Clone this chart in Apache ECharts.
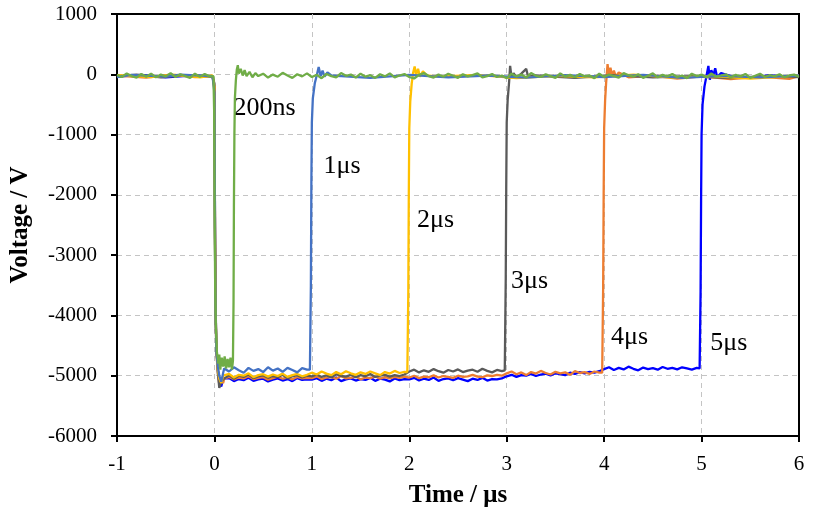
<!DOCTYPE html>
<html>
<head>
<meta charset="utf-8">
<script src="https://cdn.jsdelivr.net/npm/echarts@6/dist/echarts.min.js"></script>
<style>
  html, body { margin: 0; padding: 0; background: #fff; }
  #chart { width: 818px; height: 518px; }
</style>
</head>
<body>
<div id="chart"></div>
<script>
// sampled traces, time in us, voltage in V
var STEP = 0.05;      // sample spacing of the noisy stretches
var LOW_START = 0.1;  // first sample of the -5 kV plateau

// 200 ns pulse (green, drawn on top)
var greenPre = [-10, -45, 15, -30, -55, 5, -40, 10, -50, -5, -35, 20, -45, 0, -30, -60, 10, -40, 5, -35]; // from -1
var greenPulse = [[-0.01, -30], [-0.003, -600], [0.003, -2500], [0.008, -3600], [0.015, -4200], [0.025, -4600],
    [0.04, -4800], [0.05, -4650], [0.06, -4900], [0.075, -4700], [0.09, -4850], [0.105, -4680], [0.12, -4880],
    [0.135, -4720], [0.15, -4860], [0.165, -4700], [0.18, -4900], [0.19, -4750], [0.196, -3800], [0.2, -2200],
    [0.205, -1000], [0.21, -400], [0.22, -100], [0.23, 80], [0.24, 150], [0.25, 10], [0.27, 90], [0.29, -20],
    [0.31, 70], [0.33, -30], [0.36, 40], [0.39, -50], [0.42, 20]];
var greenTail = [ // from 0.45
    -30, 10, -55, -5, -40, 25, -20, -60, 0, -35,
    15, -45, -10, -65, 5, -30, -50, 20, -25, -5,
    -55, 10, -40, -15, -60, 0, -35, 15, -50, -20,
    5, -45, -70, -10, 20, -30, -55, -5, -40, 10,
    -25, -60, 0, -35, -15, 15, -50, -30, 5, -45,
    -20, -65, 10, -35, -5, -55, 20, -25, -45, 0,
    -30, -60, 15, -40, -10, -50, 5, -35, -20, -65,
    10, -45, -5, -30, -55, 20, -15, -40, 0, -60,
    -25, 15, -50, -10, -35, 5, -45, -20, -65, 10,
    -30, -5, -55, 15, -40, -20, 0, -50, -10, -35,
    5, -60, -25, 10, -45, -15, -35, 0, -50, -20,
    -5, -40];

// 1 us pulse
var pre1 = [[-1, -45], [-0.85, -10], [-0.5, -40], [-0.35, -5], [-0.02, -30]];
var fall1 = [[0, -300], [0.006, -2900], [0.012, -4000], [0.02, -4600], [0.035, -4850], [0.05, -5000], [0.07, -5100], [0.09, -4950]];
var low1 = [-4880, -4930, -4860, -4910, -4950, -4870, -4920, -4890, -4940, -4860, -4915, -4880, -4935, -4870, -4905, -4945, -4875, -4900];
var rise1 = [[0.98, -4900], [0.99, -3500], [0.995, -1800], [1.0, -800], [1.01, -400], [1.03, -150], [1.05, -20],
    [1.07, 120], [1.09, -30], [1.11, 60], [1.13, -40], [1.16, 30], [1.2, -20]];
var post1 = [[1.3, -30], [1.6, -60], [2.0, -10], [2.4, -50], [2.8, -20], [3.2, -55], [3.6, -15], [4.0, -45],
    [4.4, -10], [4.8, -60], [5.2, -25], [5.6, -50], [6, -20]];

// 2 us pulse
var pre2 = [[-1, -15], [-0.65, -45], [-0.4, -10], [-0.15, -50], [-0.02, -20]];
var fall2 = [[0, -200], [0.006, -2700], [0.012, -3900], [0.02, -4500], [0.035, -4900], [0.05, -5050], [0.07, -5120], [0.09, -5000]];
var low2 = [-5010, -4970, -5030, -4985, -5000, -4960, -5025, -4990, -4975, -5015, -4980, -5005, -4965, -5020, -4990, -4970, -5010, -4985,
    -4950, -4980, -4930, -4965, -4990, -4940, -4975, -4925, -4960, -4985, -4945, -4970, -4930, -4960, -4990, -4940, -4965, -4920, -4955, -4935];
var rise2 = [[1.98, -4940], [1.99, -3600], [1.995, -2000], [2.0, -900], [2.01, -450], [2.025, -150], [2.04, 30],
    [2.055, 130], [2.07, -10], [2.09, 90], [2.11, -40], [2.14, 50], [2.18, -20]];
var post2 = [[2.3, -40], [2.7, -10], [3.1, -65], [3.5, -25], [3.9, -50], [4.3, -5], [4.7, -55], [5.1, -30], [5.5, -70], [6, -20]];

// 3 us pulse
var pre3 = [[-1, -35], [-0.8, -5], [-0.55, -50], [-0.3, -15], [-0.02, -40]];
var fall3 = [[0, -150], [0.006, -2500], [0.012, -3800], [0.02, -4550], [0.035, -4950], [0.05, -5200], [0.07, -5100], [0.09, -5060]];
var low3 = [-5030, -4990, -5050, -5000, -5020, -4980, -5040, -5010, -4995, -5035, -5005, -5025, -4985, -5045, -5010, -4990, -5030, -5000,
    -5010, -4980, -5020, -4995, -5030, -4975, -5005, -5015, -4985, -5025, -4990, -5010, -4970, -5020, -5000, -4985, -5015, -4990, -5005, -4980,
    -4930, -4900, -4945, -4910, -4935, -4890, -4925, -4950, -4905, -4930, -4895, -4940, -4915, -4900, -4935, -4885, -4920, -4945, -4905, -4925];
var rise3 = [[2.98, -4910], [2.99, -3400], [2.995, -1900], [3.0, -800], [3.01, -420], [3.025, -120], [3.035, 140],
    [3.05, -60], [3.07, 20], [3.1, -50], [3.15, 10], [3.2, 90], [3.22, -40]];
var post3 = [[3.3, -20], [3.7, -60], [4.1, -15], [4.5, -50], [4.9, -30], [5.3, -65], [5.7, -25], [6, -45]];

// 4 us pulse
var pre4 = [[-1, -20], [-0.7, -55], [-0.45, -5], [-0.2, -45], [-0.02, -25]];
var fall4 = [[0, -250], [0.006, -2800], [0.012, -4000], [0.02, -4600], [0.035, -4950], [0.05, -5150], [0.07, -5080], [0.09, -5120]];
var low4 = [-5050, -5020, -5060, -5030, -5045, -5010, -5055, -5035, -5025, -5065, -5040, -5015, -5050, -5030, -5060, -5020, -5045, -5035,
    -5040, -5010, -5055, -5030, -5020, -5050, -5005, -5045, -5035, -5015, -5060, -5030, -5040, -5010, -5050, -5025, -5045, -5020, -5035, -5015,
    -5030, -5000, -5040, -5015, -5025, -4995, -5030, -5005, -5020, -5035, -5000, -5020, -5010, -4985, -5015, -5025, -4995, -5005, -4985, -5000,
    -4960, -4930, -4975, -4945, -4990, -4940, -4965, -4920, -4955, -4980, -4935, -4960, -4945, -4985, -4925, -4955, -4940, -4970, -4930, -4950];
var rise4 = [[3.98, -4950], [3.99, -3500], [3.995, -2000], [4.0, -900], [4.01, -430], [4.02, -150], [4.035, 170],
    [4.05, -30], [4.065, 110], [4.08, -20], [4.1, 60], [4.12, -40], [4.15, 30]];
var post4 = [[4.25, -50], [4.5, -20], [4.75, -70], [5.0, -35], [5.3, -80], [5.6, -40], [5.9, -75], [6, -30]];

// 5 us pulse
var pre5 = [[-1, -40], [-0.75, -10], [-0.5, -50], [-0.25, -20], [-0.02, -35]];
var fall5 = [[0, -200], [0.006, -2600], [0.012, -3900], [0.02, -4500], [0.035, -4900], [0.05, -5100], [0.07, -5180], [0.09, -5050]];
var low5 = [-5070, -5040, -5090, -5055, -5075, -5035, -5085, -5060, -5050, -5095, -5065, -5045, -5080, -5055, -5090, -5040, -5070, -5060,
    -5065, -5040, -5085, -5050, -5075, -5030, -5090, -5060, -5045, -5080, -5055, -5070, -5035, -5085, -5050, -5065, -5095, -5045, -5075, -5055,
    -5060, -5035, -5080, -5050, -5070, -5030, -5085, -5055, -5045, -5075, -5040, -5065, -5090, -5050, -5070, -5035, -5080, -5055, -5060, -5045,
    -5010, -4985, -5020, -4990, -5000, -4970, -5005, -4980, -4965, -4995, -4960, -4975, -4990, -4950, -4970, -4940, -4960, -4935, -4950, -4925,
    -4890, -4860, -4905, -4870, -4895, -4850, -4885, -4910, -4865, -4890, -4875, -4900, -4855, -4885, -4870, -4895, -4860, -4880, -4900, -4870];
var rise5 = [[4.98, -4880], [4.99, -3600], [4.995, -2100], [5.0, -1000], [5.01, -500], [5.03, -200], [5.05, -30],
    [5.07, 140], [5.085, -90], [5.1, 70], [5.12, -20], [5.14, 100], [5.16, -50], [5.2, 20]];
var post5 = [[5.3, -30], [5.5, -60], [5.7, -15], [5.9, -50], [6, -25]];

// pulse-width annotations
var labelText = ['5μs', '4μs', '3μs', '2μs', '1μs', '200ns'];
var labelT = [5.09, 4.07, 3.045, 2.08, 1.12, 0.195];
var labelV = [-4460, -4360, -3430, -2420, -1525, -565];

var seriesColors = ['#0000FF', '#ED7D31', '#5A5A5A', '#FFC000', '#4472C4', '#70AD47'];

function sampled(vals, start) {
    return vals.map(function (v, i) { return [+(start + i * STEP).toFixed(3), v]; });
}

var traces = [
    pre5.concat(fall5, sampled(low5, LOW_START), rise5, post5),
    pre4.concat(fall4, sampled(low4, LOW_START), rise4, post4),
    pre3.concat(fall3, sampled(low3, LOW_START), rise3, post3),
    pre2.concat(fall2, sampled(low2, LOW_START), rise2, post2),
    pre1.concat(fall1, sampled(low1, LOW_START), rise1, post1),
    sampled(greenPre, -1).concat(greenPulse, sampled(greenTail, 0.45))
];

var FONT = '"Liberation Serif", "Times New Roman", serif';

var series = traces.map(function (d, i) {
    return {
        type: 'line',
        name: labelText[i],
        data: d,
        symbol: 'none',
        lineStyle: {color: seriesColors[i], width: 2.3},
        itemStyle: {color: seriesColors[i]},
        z: 2 + i,
        markPoint: {
            symbol: 'circle',
            symbolSize: 0,
            silent: true,
            data: [{coord: [labelT[i], labelV[i]]}],
            label: {
                show: true,
                position: 'right',
                distance: 0,
                formatter: labelText[i],
                color: '#000',
                fontFamily: FONT,
                fontSize: 26
            }
        }
    };
});

var chart = echarts.init(document.getElementById('chart'));
chart.setOption({
    animation: false,
    backgroundColor: '#fff',
    grid: {
        left: 117, right: 19, top: 14, bottom: 82,
        show: true, borderColor: '#000', borderWidth: 2
    },
    xAxis: {
        type: 'value',
        min: -1, max: 6, interval: 1,
        name: 'Time / μs',
        nameLocation: 'middle',
        nameGap: 47,
        nameTextStyle: {fontFamily: FONT, fontSize: 25, fontWeight: 'bold', color: '#000'},
        axisLine: {onZero: false, lineStyle: {color: '#000', width: 2}},
        axisTick: {show: true, length: 6, lineStyle: {color: '#000', width: 2}},
        axisLabel: {fontFamily: FONT, fontSize: 21, color: '#000', margin: 18},
        splitLine: {show: true, showMinLine: false, showMaxLine: false,
            lineStyle: {color: '#c4c4c4', type: [5, 4], width: 1}}
    },
    yAxis: {
        type: 'value',
        min: -6000, max: 1000, interval: 1000,
        name: 'Voltage / V',
        nameLocation: 'middle',
        nameGap: 84,
        nameTextStyle: {fontFamily: FONT, fontSize: 25, fontWeight: 'bold', color: '#000'},
        axisLine: {show: true, onZero: false, lineStyle: {color: '#000', width: 2}},
        axisTick: {show: true, length: 6, lineStyle: {color: '#000', width: 2}},
        axisLabel: {fontFamily: FONT, fontSize: 21, color: '#000', margin: 20,
            formatter: function (v) { return String(v); }},
        splitLine: {show: true, showMinLine: false, showMaxLine: false,
            lineStyle: {color: '#c4c4c4', type: [5, 4], width: 1}}
    },
    series: series
});
</script>
</body>
</html>
